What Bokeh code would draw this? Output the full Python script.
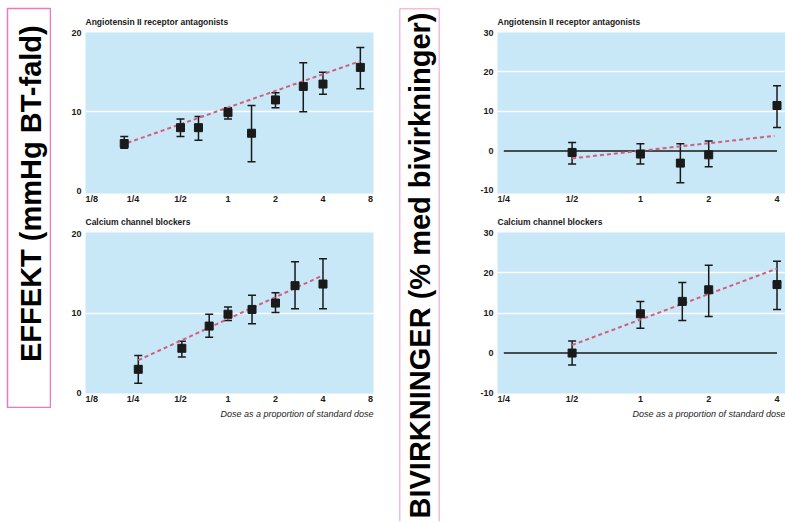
import math
from bokeh.plotting import figure
from bokeh.models import (ColumnDataSource, Range1d, FixedTicker, Whisker, TeeHead,
                          Label, Span, Spacer, Title)
from bokeh.layouts import row, column
from bokeh.embed import file_html
from bokeh.resources import INLINE

# ---------------- data ----------------
# Efficacy: blood-pressure fall (mmHg)
ara_bp_dose = [0.22, 0.5, 0.65, 1.0, 1.41, 2.0, 3.0, 4.0, 6.9]
ara_bp_mean = [6.0, 8.0, 8.0, 9.9, 7.3, 11.5, 13.2, 13.5, 15.6]
ara_bp_lo = [5.4, 6.9, 6.4, 9.1, 3.7, 10.5, 10.0, 12.2, 12.9]
ara_bp_hi = [6.9, 9.1, 9.4, 10.5, 10.8, 12.4, 16.2, 15.0, 18.1]
ara_bp_trend_x = [0.21, 6.9]
ara_bp_trend_y = [5.8, 16.4]

ccb_bp_dose = [0.27, 0.51, 0.76, 1.0, 1.42, 2.0, 2.66, 4.0]
ccb_bp_mean = [2.95, 5.6, 8.4, 9.9, 10.5, 11.3, 13.5, 13.7]
ccb_bp_lo = [1.2, 4.5, 7.0, 9.1, 8.7, 10.1, 10.6, 10.6]
ccb_bp_hi = [4.7, 6.5, 9.9, 10.8, 12.3, 12.6, 16.5, 16.9]
ccb_bp_trend_x = [0.27, 4.0]
ccb_bp_trend_y = [4.1, 14.8]

# Adverse effects: % with side effects
ara_ae_dose = [0.5, 1.0, 1.5, 2.0, 4.0]
ara_ae_mean = [-0.4, -0.8, -3.1, -1.0, 11.5]
ara_ae_lo = [-3.3, -3.3, -8.1, -4.0, 5.9]
ara_ae_hi = [2.1, 1.8, 1.8, 2.5, 16.5]
ara_ae_trend_x = [0.5, 3.9]
ara_ae_trend_y = [-1.9, 3.8]

ccb_ae_dose = [0.5, 1.0, 1.53, 2.0, 4.0]
ccb_ae_mean = [0.0, 9.8, 12.9, 15.8, 17.1]
ccb_ae_lo = [-3.0, 6.2, 8.1, 9.1, 10.9]
ccb_ae_hi = [3.0, 12.9, 17.6, 21.9, 22.9]
ccb_ae_trend_x = [0.5, 4.0]
ccb_ae_trend_y = [2.0, 21.1]

# tick labels
left_x_ticks = [0.125, 0.25, 0.5, 1, 2, 4, 8]
left_x_labels = ["1/8", "1/4", "1/2", "1", "2", "4", "8"]
right_x_ticks = [0.25, 0.5, 1, 2, 4]
right_x_labels = ["1/4", "1/2", "1", "2", "4"]
left_y_ticks = [0, 10, 20]
right_y_ticks = [-10, 0, 10, 20, 30]

title_ara = "Angiotensin II receptor antagonists"
title_ccb = "Calcium channel blockers"
xlabel_text = "Dose as a proportion of standard dose"
label_effect = "EFFEKT (mmHg BT-fald)"
label_adverse = "BIVIRKNINGER (% med bivirkninger)"

# ---------------- styles ----------------
BLUE = "#c8e7f7"
PINK = "#ee79b9"
TREND = "#d25f7d"
INK = "#1a1a1a"
FONT = "Liberation Sans"
NBSP = "\u00a0"


def make_panel(title, dose, mean, lo, hi, tx, ty, xticks, xlabels, xr, yr,
               yticks, grid_ticks, width, height, mbl, mbr, mbt, mbb,
               xlabel=False, zero_line=False, first_shift=False):
    p = figure(width=width, height=height, x_axis_type="log",
               x_range=Range1d(*xr), y_range=Range1d(*yr),
               output_backend="svg", toolbar_location=None,
               min_border_left=mbl, min_border_right=mbr,
               min_border_top=mbt, min_border_bottom=mbb,
               background_fill_color=BLUE, border_fill_color="white",
               outline_line_color=None, title=title)
    p.title.text_font = FONT
    p.title.text_font_size = "8.5px"
    p.title.text_font_style = "bold"
    p.title.text_color = INK
    p.title.align = "left"
    p.title.standoff = 11

    labels = list(xlabels)
    if first_shift:
        labels[0] = NBSP * 5 + labels[0]
    p.xaxis.ticker = FixedTicker(ticks=xticks)
    p.xaxis.major_label_overrides = {t: l for t, l in zip(xticks, labels)}
    p.yaxis.ticker = FixedTicker(ticks=yticks)
    p.yaxis.major_label_overrides = {t: str(t) for t in yticks}
    for ax in (p.xaxis[0], p.yaxis[0]):
        ax.axis_line_color = None
        ax.major_tick_line_color = None
        ax.minor_tick_line_color = None
        ax.major_tick_out = 0
        ax.major_tick_in = 0
        ax.minor_tick_out = 0
        ax.minor_tick_in = 0
        ax.major_label_text_font = FONT
        ax.major_label_text_font_size = "9px"
        ax.major_label_text_font_style = "bold"
        ax.major_label_text_color = INK
    p.xaxis.major_label_standoff = 0
    p.yaxis.major_label_standoff = 4

    p.xgrid.visible = False
    p.ygrid.ticker = FixedTicker(ticks=grid_ticks)
    p.ygrid.grid_line_color = "white"
    p.ygrid.grid_line_width = 1.5

    if zero_line:
        p.line(x=[xticks[0], xticks[-1]], y=[0, 0], line_color=INK, line_width=1.5)

    p.line(x=tx, y=ty, line_color=TREND, line_width=2, line_dash="4 3")

    src = ColumnDataSource(dict(x=dose, y=mean, lo=lo, hi=hi))
    w = Whisker(source=src, base="x", upper="hi", lower="lo", dimension="height",
                line_color=INK, line_width=1.5,
                upper_head=TeeHead(size=8, line_color=INK, line_width=1.5),
                lower_head=TeeHead(size=8, line_color=INK, line_width=1.5))
    p.add_layout(w)
    p.scatter(x="x", y="y", source=src, marker="square", size=8,
              fill_color=INK, line_color=INK)

    if xlabel:
        p.add_layout(Title(text=xlabel_text, align="right", standoff=1,
                           text_font=FONT, text_font_size="9px",
                           text_font_style="italic", text_color=INK), "below")
    return p


def make_side_label(text, width, height, mbl, mbr, mbt, mbb, cx, cy, size, full_box):
    p = figure(width=width, height=height, x_range=Range1d(0, 1),
               y_range=Range1d(0, 1), output_backend="svg",
               toolbar_location=None, min_border_left=mbl, min_border_right=mbr,
               min_border_top=mbt, min_border_bottom=mbb,
               background_fill_color="white", border_fill_color="white",
               outline_line_color=None)
    p.axis.visible = False
    p.grid.visible = False
    if full_box:
        p.outline_line_color = PINK
        p.outline_line_width = 1.5
    else:
        p.add_layout(Span(location=0, dimension="height", line_color=PINK, line_width=1.5))
        p.add_layout(Span(location=1, dimension="height", line_color=PINK, line_width=1.5))
        p.add_layout(Span(location=1, dimension="width", line_color=PINK, line_width=1.5))
    p.add_layout(Label(x=cx, y=cy, text=text, angle=math.pi / 2,
                       text_align="center", text_baseline="middle",
                       text_font=FONT, text_font_size=size,
                       text_font_style="bold", text_color="black"))
    return p


left_xr = (0.125, 8.36)
right_xr = (0.2345, 4.36)

tl = make_panel(title_ara, ara_bp_dose, ara_bp_mean, ara_bp_lo, ara_bp_hi,
                ara_bp_trend_x, ara_bp_trend_y, left_x_ticks, left_x_labels,
                left_xr, (-0.3, 20), left_y_ticks, [10],
                width=339, height=208, mbl=34, mbr=17, mbt=32, mbb=15,
                first_shift=True)
bl = make_panel(title_ccb, ccb_bp_dose, ccb_bp_mean, ccb_bp_lo, ccb_bp_hi,
                ccb_bp_trend_x, ccb_bp_trend_y, left_x_ticks, left_x_labels,
                left_xr, (-0.1, 20.2), left_y_ticks, [10],
                width=339, height=213, mbl=34, mbr=17, mbt=24, mbb=28,
                xlabel=True, first_shift=True)
tr = make_panel(title_ara, ara_ae_dose, ara_ae_mean, ara_ae_lo, ara_ae_hi,
                ara_ae_trend_x, ara_ae_trend_y, right_x_ticks, right_x_labels,
                right_xr, (-10.8, 30), right_y_ticks, [10, 20],
                width=344, height=208, mbl=56, mbr=0, mbt=32, mbb=15,
                zero_line=True)
br = make_panel(title_ccb, ccb_ae_dose, ccb_ae_mean, ccb_ae_lo, ccb_ae_hi,
                ccb_ae_trend_x, ccb_ae_trend_y, right_x_ticks, right_x_labels,
                right_xr, (-10.1, 30.1), right_y_ticks, [10, 20],
                width=344, height=213, mbl=56, mbr=0, mbt=24, mbb=28,
                xlabel=True, zero_line=True)

lab_a = make_side_label(label_effect, 51, 408, 7, 1, 8, 1, 0.547, 0.536, "29px", True)
lab_b = make_side_label(label_adverse, 43, 522, 1, 2, 5, 0, 0.512, 0.499, "29px", False)

layout = row(lab_a, column(tl, bl), Spacer(width=8, height=1), lab_b, column(tr, br))

open("out.html", "w").write(file_html(layout, INLINE))
